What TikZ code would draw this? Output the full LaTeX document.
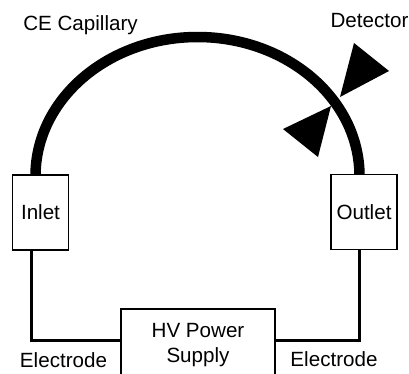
\documentclass[tikz,border=0pt]{standalone}
\usepackage{fontspec}
\setmainfont{Liberation Sans}
\begin{document}
\begin{tikzpicture}[x=1pt,y=-1pt,
  lbl/.style={inner sep=0pt,font=\fontsize{20.6}{24}\selectfont},
  boxn/.style={draw=black,line width=1.3pt,fill=white,inner sep=0pt,lbl},
  wire/.style={draw=black,line width=3pt,line join=miter},
  capil/.style={draw=black,line width=10.5pt},
  det/.style={fill=black,draw=none}]
\useasboundingbox (0,0) rectangle (409,373);
% capillary
\coordinate (capL) at (35.5,176);
\draw[capil] (capL) arc[start angle=180,end angle=360,x radius=162,y radius=139];
% boxes
\node[boxn,minimum width=56pt,minimum height=75pt] (inlet) at (40.5,212.5) {Inlet};
\node[boxn,minimum width=66pt,minimum height=75pt] (outlet) at (364,212) {Outlet};
\node[boxn,minimum width=154pt,minimum height=72pt,align=center] (hv) at (198,345) {HV Power\\[1pt]Supply};
% electrodes
\coordinate (wL) at (31,340);
\coordinate (wR) at (359,340);
\draw[wire] (inlet.south -| wL) -- (wL) -- (wL -| hv.west);
\draw[wire] (outlet.south -| wR) -- (wR) -- (wR -| hv.east);
% detector
\coordinate (d1) at (354,43);
\coordinate (d2) at (389,71);
\coordinate (d3) at (340,97);
\coordinate (d4) at (331,106);
\coordinate (d5) at (283,129);
\coordinate (d6) at (318,157);
\fill[det] (d1) -- (d2) -- (d3) -- cycle;
\fill[det] (d4) -- (d5) -- (d6) -- cycle;
% labels
\node[lbl] (cap) at (80.5,25) {CE Capillary};
\node[lbl] (detl) at (369.5,21) {Detector};
\node[lbl] (el) at (63.5,360) {Electrode};
\node[lbl] (er) at (334,359) {Electrode};
\end{tikzpicture}
\end{document}
